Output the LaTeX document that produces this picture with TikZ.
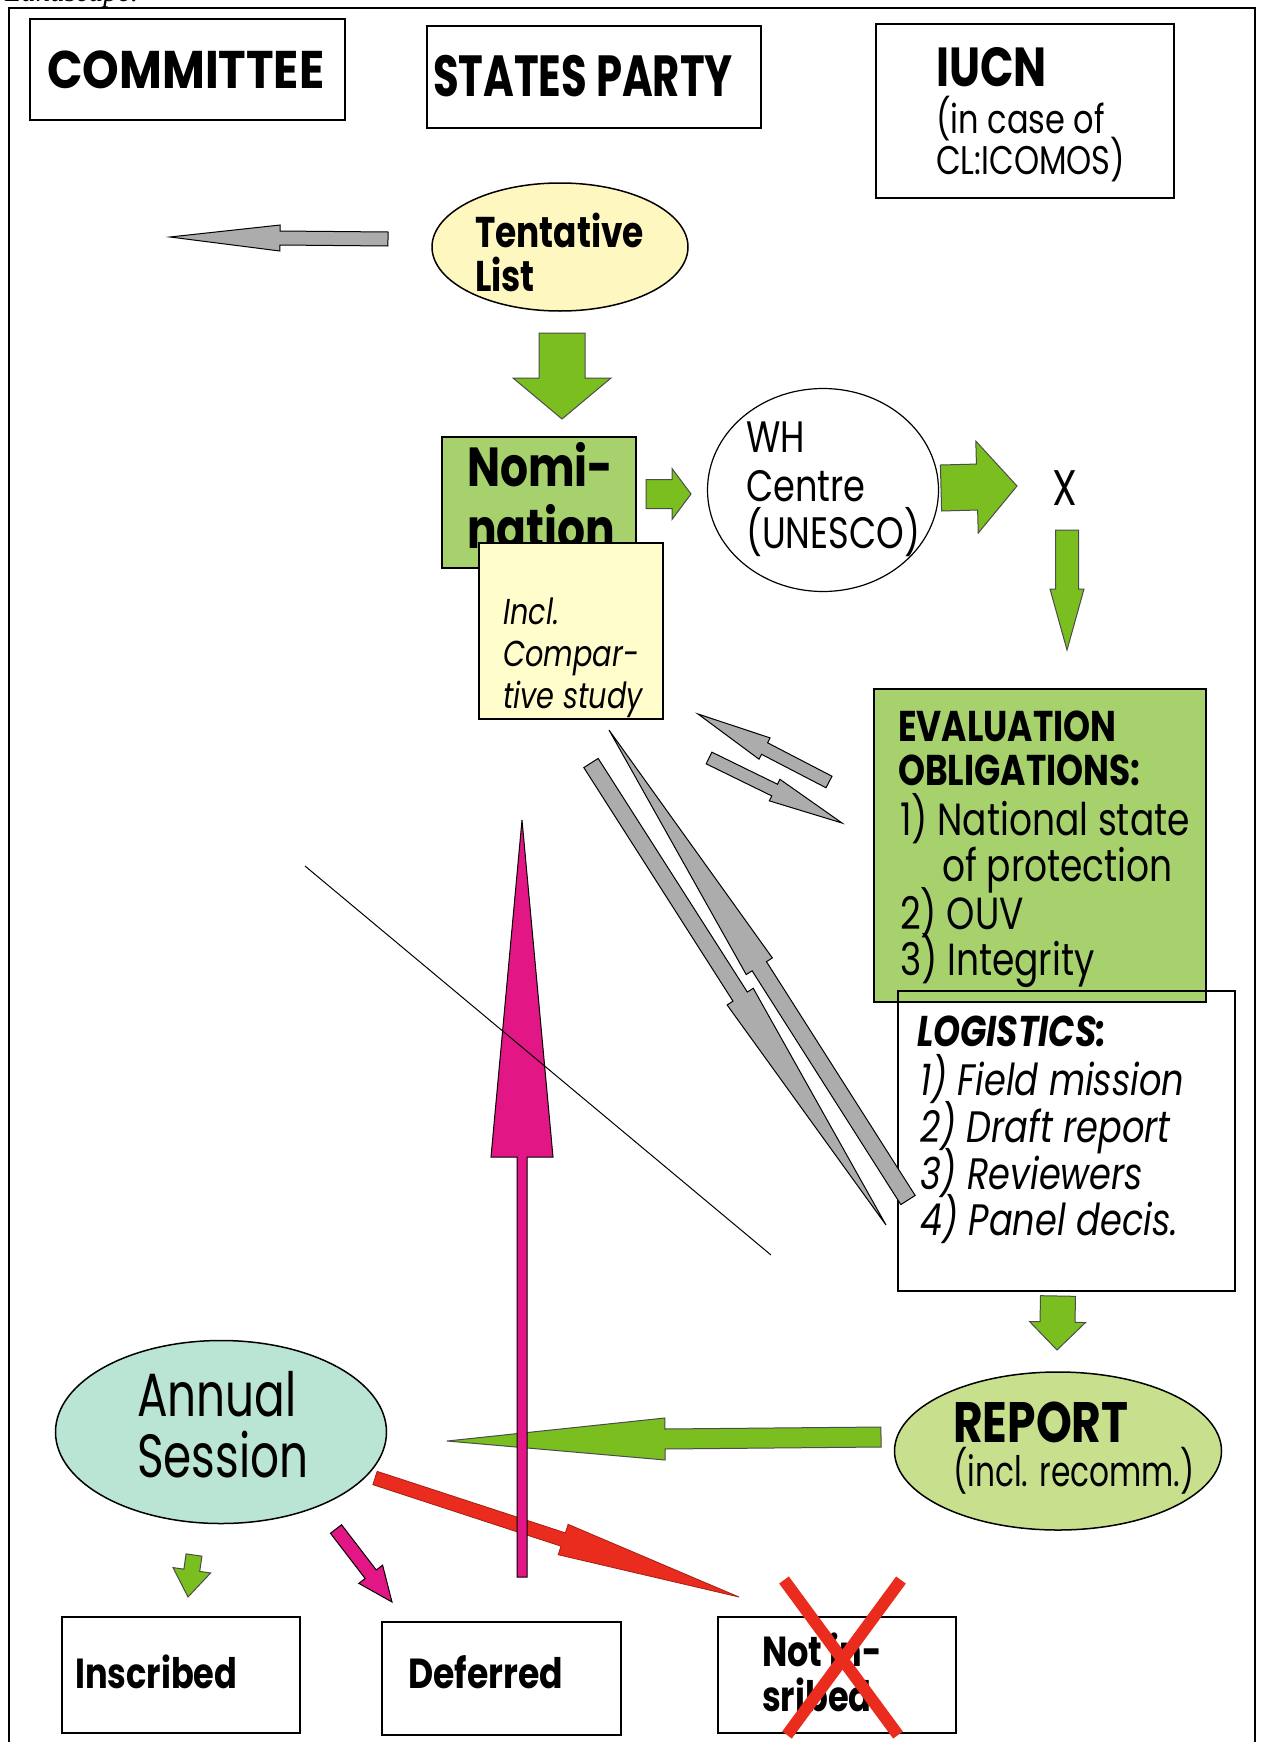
\documentclass[tikz,border=0pt]{standalone}
\usepackage{fontspec}
\setmainfont{Poppins}
\newfontfamily\serifit{Liberation Serif}
\usetikzlibrary{calc,shapes.geometric,fit}
\definecolor{nomgreen}{RGB}{166,209,108}
\definecolor{argreen}{RGB}{122,190,32}
\definecolor{repgreen}{RGB}{200,224,142}
\definecolor{anncyan}{RGB}{186,228,212}
\definecolor{tlyellow}{RGB}{255,247,192}
\definecolor{inclyellow}{RGB}{255,253,204}
\definecolor{argray}{RGB}{172,172,172}
\definecolor{pinkar}{RGB}{226,22,132}
\definecolor{redar}{RGB}{234,44,30}
\newcommand\fsz[1]{\fontsize{#1}{#1}\selectfont}
\newcommand\blkarrow[6]{%
  \coordinate (#3-hb) at ($(#3)!#6!(#2)$);
  \path[#1] ($(#2)!#4!90:(#3)$) -- ($(#3-hb)!#4!-90:(#2)$) -- ($(#3-hb)!#5!-90:(#2)$) -- (#3)
    -- ($(#3-hb)!#5!90:(#2)$) -- ($(#3-hb)!#4!90:(#2)$) -- ($(#2)!#4!-90:(#3)$) -- cycle;
}
\begin{document}
\begin{tikzpicture}[x=1pt,y=-1pt,
  box/.style={draw=black, line width=2pt, inner sep=0pt},
  oval/.style={ellipse, draw=black, line width=1.5pt, inner sep=0pt},
  t/.style={anchor=base west, inner sep=0pt, xscale=0.8},
  garrow/.style={fill=argreen, draw=black!70, line width=1pt},
  grarrow/.style={fill=argray, draw=black, line width=1pt},
  parrow/.style={fill=pinkar, draw=black, line width=1pt},
  rarrow/.style={fill=redar, draw=redar!70!black, line width=0.8pt}]
\useasboundingbox (0,0) rectangle (1263,1742);
\fill[white] (0,0) rectangle (1263,1742);

% outer frame
\coordinate (fbl) at (9,1760); \coordinate (ftl) at (9,8);
\coordinate (ftr) at (1255,8); \coordinate (fbr) at (1255,1760);
\draw[line width=2.2pt] (fbl) -- (ftl) -- (ftr) -- (fbr);
\node[anchor=base west, inner sep=0pt, font=\serifit\itshape\fsz{29}] (land) at (5,2) {Landscape.};

% top boxes
\node[box, fit={(30,19)(345,120)}] (com) {};
\node[t, xscale=1.1, font=\bfseries\fsz{53}] (comT) at (47,89) {COMMITTEE};
\node[box, fit={(427,26)(761,128)}] (sp) {};
\node[t, xscale=0.9, font=\bfseries\fsz{58}] (spT) at (433,97) {STATES PARTY};
\node[box, fit={(876,24)(1174,198)}] (iucn) {};
\node[t, font=\bfseries\fsz{55}] (iucnT) at (936,87) {IUCN};
\node[t, font=\fsz{40}] (iucnA) at (936,133) {(in case of};
\node[t, font=\fsz{40}] (iucnB) at (936,174) {CL:ICOMOS)};

% tentative list
\coordinate (tlc-t) at (388,239); \coordinate (tlc-h) at (170,237);
\blkarrow{grarrow}{tlc-t}{tlc-h}{7pt}{13pt}{110pt}
\node[oval, fill=tlyellow, minimum width=256pt, minimum height=128pt] (tl) at (560,247) {};
\node[t, font=\bfseries\fsz{43}] (tlA) at (475,247) {Tentative};
\node[t, font=\bfseries\fsz{43}] (tlB) at (475,291) {List};

\coordinate (tn-t) at (562,333); \coordinate (tn-h) at (562,419);
\blkarrow{garrow}{tn-t}{tn-h}{23pt}{49pt}{41pt}

% nomination
\node[box, fill=nomgreen, fit={(442,437)(636,568)}] (nom) {};
\node[t, font=\bfseries\fsz{55}] (nomA) at (467,486) {Nomi-};
\node[t, font=\bfseries\fsz{55}] (nomB) at (467,548) {nation};
\node[box, line width=1.5pt, fill=inclyellow, fit={(479,543)(663,719)}] (incl) {};
\node[t, font=\itshape\fsz{36}] (inclA) at (503,624) {Incl.};
\node[t, font=\itshape\fsz{36}] (inclB) at (503,666) {Compar-};
\node[t, font=\itshape\fsz{36}] (inclC) at (503,708) {tive study};

\coordinate (nw-t) at (646,494); \coordinate (nw-h) at (691,494);
\blkarrow{garrow}{nw-t}{nw-h}{14.5pt}{25.5pt}{19pt}

% WH centre
\node[oval, fill=white, line width=1.2pt, minimum width=231pt, minimum height=203pt] (wh) at (823,490) {};
\node[t, font=\fsz{44}] (whA) at (746,452) {WH};
\node[t, font=\fsz{44}] (whB) at (746,501) {Centre};
\node[t, font=\fsz{44}] (whC) at (746,548) {(UNESCO)};

\coordinate (wx-t) at (941,488); \coordinate (wx-h) at (1017,486);
\blkarrow{garrow}{wx-t}{wx-h}{23pt}{46pt}{40pt}
\node[t, font=\fsz{50}] (xT) at (1052,505) {X};
\coordinate (xe-t) at (1067,530); \coordinate (xe-h) at (1067,650);
\blkarrow{garrow}{xe-t}{xe-h}{11.5pt}{17pt}{61pt}

% evaluation
\node[box, fill=nomgreen, fit={(874,689)(1206,1002)}] (eval) {};
\node[t, font=\bfseries\fsz{43}] (evA) at (898,741) {EVALUATION};
\node[t, font=\bfseries\fsz{43}] (evB) at (898,785) {OBLIGATIONS:};
\node[t, font=\fsz{45}] (evC) at (900,835) {1) National state};
\node[t, font=\fsz{45}] (evD) at (942,881) {of protection};
\node[t, font=\fsz{45}] (evE) at (900,929) {2) OUV};
\node[t, font=\fsz{45}] (evF) at (900,975) {3) Integrity};

% logistics
\node[draw=black, line width=1.5pt, inner sep=0pt, fit={(898,991)(1235,1291)}] (log) {};
\node[t, font=\bfseries\itshape\fsz{43}] (lgA) at (917,1046) {LOGISTICS:};
\node[t, font=\itshape\fsz{44}] (lgB) at (920,1095) {1) Field mission};
\node[t, font=\itshape\fsz{44}] (lgC) at (920,1142) {2) Draft report};
\node[t, font=\itshape\fsz{44}] (lgD) at (920,1189) {3) Reviewers};
\node[t, font=\itshape\fsz{44}] (lgE) at (920,1235) {4) Panel decis.};

% gray arrows
\coordinate (g1-t) at (829,782); \coordinate (g1-h) at (698,714);
\blkarrow{grarrow}{g1-t}{g1-h}{6.5pt}{12pt}{75pt}
\coordinate (g2-t) at (709,758); \coordinate (g2-h) at (842,823);
\blkarrow{grarrow}{g2-t}{g2-h}{6.5pt}{12pt}{75pt}
\coordinate (gL-t) at (591,763); \coordinate (gL-h) at (886,1225);
\blkarrow{grarrow}{gL-t}{gL-h}{8.5pt}{15.5pt}{271pt}
\coordinate (gR-t) at (908,1200); \coordinate (gR-h) at (609,730);
\blkarrow{grarrow}{gR-t}{gR-h}{8.5pt}{15.5pt}{280pt}

% report
\coordinate (lr-t) at (1058,1296); \coordinate (lr-h) at (1057,1350);
\blkarrow{garrow}{lr-t}{lr-h}{17.5pt}{28pt}{28pt}
\node[oval, fill=repgreen, minimum width=327pt, minimum height=158pt] (rep) at (1058,1451) {};
\node[t, font=\bfseries\fsz{57}] (repA) at (953,1442) {REPORT};
\node[t, xscale=0.93, font=\fsz{42}] (repB) at (953,1486) {(incl. recomm.)};

% annual session
\node[oval, fill=anncyan, minimum width=331pt, minimum height=183pt] (ann) at (221,1432) {};
\node[t, xscale=0.93, font=\fsz{61}] (annA) at (137,1416) {Annual};
\node[t, xscale=0.93, font=\fsz{61}] (annB) at (137,1477) {Session};

\coordinate (ra-t) at (881,1437); \coordinate (ra-h) at (447,1441);
\blkarrow{garrow}{ra-t}{ra-h}{10pt}{21pt}{218pt}
\coordinate (an-t) at (375,1478); \coordinate (an-h) at (739,1597);
\blkarrow{rarrow}{an-t}{an-h}{7pt}{16pt}{185pt}
\coordinate (ad-t) at (336,1529); \coordinate (ad-h) at (392,1602);
\blkarrow{parrow}{ad-t}{ad-h}{7pt}{15pt}{35pt}
\coordinate (ai-t) at (194,1555); \coordinate (ai-h) at (188,1597);
\blkarrow{garrow}{ai-t}{ai-h}{8pt}{19pt}{27pt}

% big pink arrow and thin line
\coordinate (pk-t) at (522,1577); \coordinate (pk-h) at (522,820);
\blkarrow{parrow}{pk-t}{pk-h}{5pt}{31pt}{337pt}
\coordinate (ln-a) at (305,866); \coordinate (ln-b) at (771,1255);
\draw[line width=1pt] (ln-a) -- (ln-b);

% outcome boxes
\node[box, fit={(62,1617)(300,1733)}] (ins) {};
\node[t, font=\bfseries\fsz{42}] (insT) at (75,1688) {Inscribed};
\node[box, fit={(382,1622)(621,1735)}] (def) {};
\node[t, xscale=1.03, font=\bfseries\fsz{42}] (defT) at (408,1688) {Deferred};
\node[box, fit={(718,1617)(956,1733)}] (notb) {};
\node[t, font=\bfseries\fsz{42}] (notA) at (762,1666) {Not in-};
\node[t, font=\bfseries\fsz{42}] (notB) at (762,1711) {sribed};
\coordinate (xa1) at (784,1580); \coordinate (xa2) at (898,1735);
\coordinate (xb1) at (901,1580); \coordinate (xb2) at (787,1735);
\draw[redar, line width=12pt] (xa1) -- (xa2);
\draw[redar, line width=12pt] (xb1) -- (xb2);
\end{tikzpicture}
\end{document}
